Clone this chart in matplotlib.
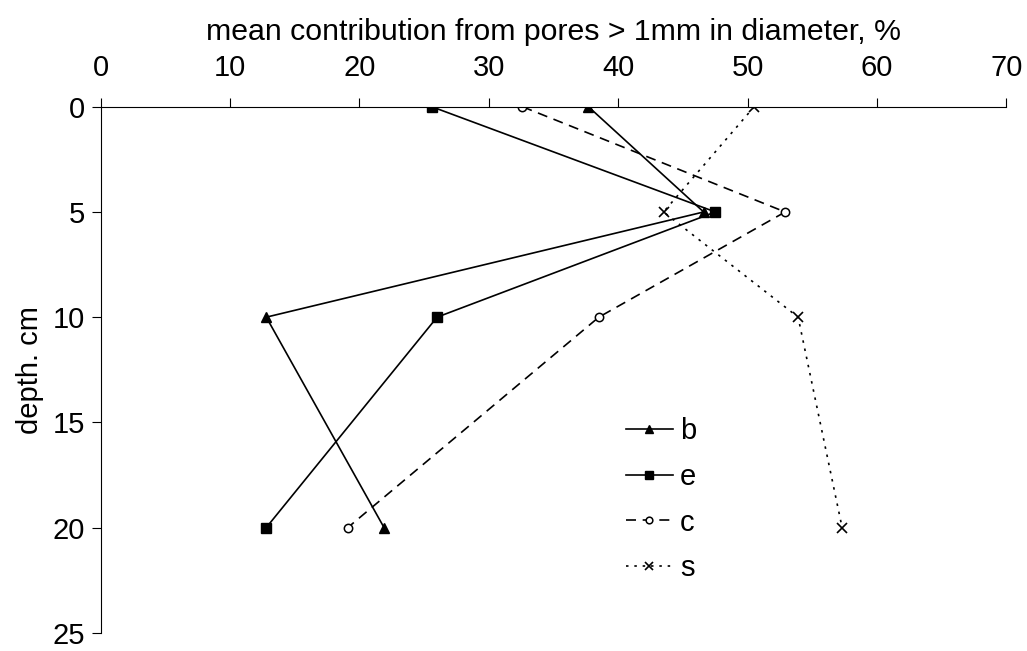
import matplotlib.pyplot as plt

plt.rcParams['font.family'] = ['Liberation Sans', 'DejaVu Sans']

depth = [0, 5, 10, 20]

b_vals = [37.7, 46.6, 12.8, 21.9]
e_vals = [25.6, 47.5, 26.0, 12.8]
c_vals = [32.6, 52.9, 38.5, 19.1]
s_vals = [50.5, 43.5, 53.9, 57.3]

fig = plt.figure(figsize=(10.27, 6.51), dpi=100)
ax = fig.add_axes([0.098, 0.028, 0.882, 0.808])

ax.plot(b_vals, depth, color='black', lw=1.2, marker='^', ms=7, label='b')
ax.plot(e_vals, depth, color='black', lw=1.2, marker='s', ms=6.5, label='e')
ax.plot(c_vals, depth, color='black', lw=1.2, ls=(0, (6, 4)), marker='o', ms=6,
        mfc='white', mew=1.1, label='c')
ax.plot(s_vals, depth, color='black', lw=1.2, ls=(0, (1.5, 3.5)), marker='x', ms=6.5,
        mew=1.2, label='s')

ax.set_xlim(0, 70)
ax.set_ylim(25, 0)
ax.set_xticks(range(0, 71, 10))
ax.set_yticks(range(0, 26, 5))
ax.xaxis.tick_top()
ax.xaxis.set_label_position('top')
ax.tick_params(axis='both', direction='out', length=6.5, width=0.8, labelsize=21, colors='black')
ax.tick_params(axis='x', pad=11.5)
ax.tick_params(axis='y', pad=5)
ax.spines['right'].set_visible(False)
ax.spines['bottom'].set_visible(False)
ax.set_xlabel('mean contribution from pores > 1mm in diameter, %', fontsize=21.8, labelpad=10)
ax.set_ylabel('depth. cm', fontsize=21, labelpad=6)

ax.legend(loc='upper left', bbox_to_anchor=(0.58, 0.41), frameon=False, fontsize=21,
          borderpad=0, borderaxespad=0, markerscale=0.8,
          handlelength=1.6, handletextpad=0.25, labelspacing=0.61)

plt.savefig('out.png')
